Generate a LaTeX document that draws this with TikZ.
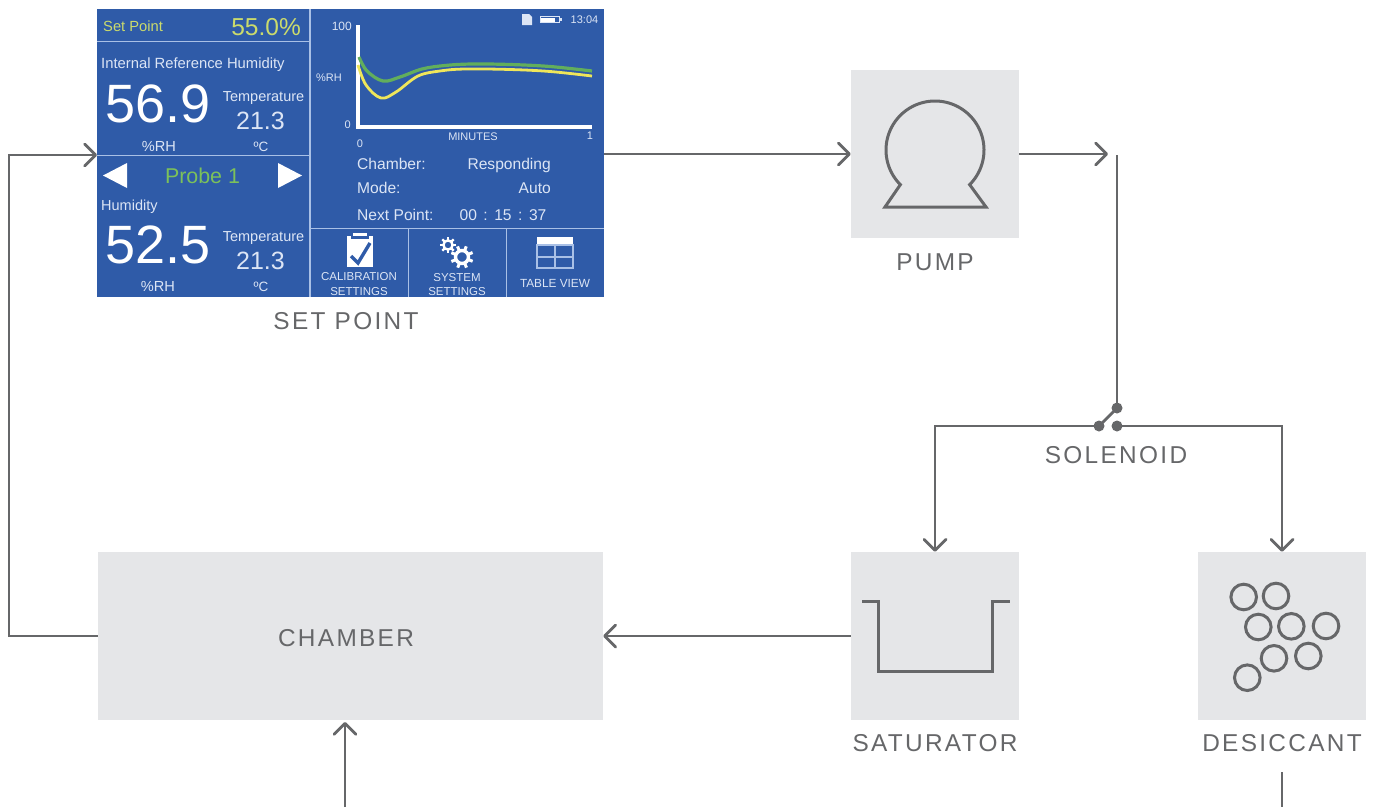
\documentclass[tikz,border=0pt]{standalone}
\usepackage{fontspec}
\setmainfont{Liberation Sans}
\newfontfamily\labfont[LetterSpace=9.5]{Liberation Sans}
\usetikzlibrary{arrows.meta}
\definecolor{linegray}{HTML}{666769}
\definecolor{boxgray}{HTML}{E5E6E8}
\definecolor{scrblue}{HTML}{2F5BA8}
\definecolor{scrline}{HTML}{A9C0E6}
\definecolor{scrtext}{HTML}{DCE5F5}
\definecolor{setyellow}{HTML}{CBDB6C}
\definecolor{probegreen}{HTML}{7CC15A}
\definecolor{curvegreen}{HTML}{62AE5C}
\definecolor{curveyellow}{HTML}{EFE65A}
\newcommand{\fsz}[1]{\fontsize{#1}{#1}\selectfont}
\tikzset{
  flow/.style={draw=linegray,line width=2.8pt,line join=miter},
  arrowed/.style={flow,-{Straight Barb[length=11pt,width=22pt,line width=2.8pt,round]}},
  graybox/.style={fill=boxgray,draw=none,minimum width=168pt,minimum height=168pt,inner sep=0pt,rectangle},
  iconline/.style={draw=linegray,line width=3pt,line join=miter},
  bead/.style={iconline,fill=none},
  dot/.style={circle,fill=linegray,draw=none,minimum size=11pt,inner sep=0pt},
  steplabel/.style={text=linegray,font=\labfont\fsz{24.4},inner sep=0pt,anchor=center},
  stxt/.style={text=scrtext,inner sep=0pt},
  divider/.style={draw=scrline,line width=1.4pt},
  big/.style={stxt,text=white,font=\fsz{54},anchor=center},
  mid/.style={stxt,text=scrtext,font=\fsz{25},anchor=center},
  temp/.style={stxt,font=\fsz{14.5},anchor=center},
  body/.style={stxt,font=\fsz{15.6}},
  small/.style={stxt,font=\fsz{14.6},anchor=center},
  axis/.style={stxt,font=\fsz{11},anchor=center},
  soft/.style={stxt,font=\fsz{12},anchor=center,text=scrtext},
  iconwhite/.style={fill=white,draw=none},
}
\begin{document}
\begin{tikzpicture}[x=1pt,y=-1pt]
\useasboundingbox (0,0) rectangle (1375,807);
% boxes
\node[rectangle,fill=scrblue,minimum width=507pt,minimum height=288pt,inner sep=0pt] (screen) at (350.5,153) {};
\node[graybox] (pump) at (935,154) {};
\node[graybox,minimum width=505pt] (chamber) at (350.5,636) {};
\node[graybox] (saturator) at (935,636) {};
\node[graybox] (desiccant) at (1282,636) {};
% screen dividers
\draw[divider] (310,9) -- (310,297);
\draw[divider] (97,41.5) -- (310,41.5);
\draw[divider] (97,155.5) -- (310,155.5);
\draw[divider] (310,228.5) -- (604,228.5);
\draw[divider] (408.5,228.5) -- (408.5,297);
\draw[divider] (506.5,228.5) -- (506.5,297);
% left screen
\node[stxt,text=setyellow,font=\fsz{14.7},anchor=west] (t1) at (103,26.5) {Set Point};
\node[stxt,text=setyellow,font=\fsz{24.5},anchor=east] (t2) at (301,27) {55.0\%};
\node[stxt,font=\fsz{14.8},anchor=west] (t3) at (101,65) {Internal Reference Humidity};
\node[big] (t4) at (158,104) {56.9};
\node[temp] (t5) at (263.5,98) {Temperature};
\node[mid] (t6) at (260.5,121) {21.3};
\node[small] (t7) at (159,146.5) {\%RH};
\node[small,font=\fsz{13.5}] (t8) at (261,146.5) {ºC};
\node[stxt,text=probegreen,font=\fsz{21.4},anchor=center] (t9) at (202.5,176) {Probe 1};
\fill[white] (103,175.5) -- (127,163) -- (127,188) -- cycle;
\fill[white] (302,175.5) -- (278,163) -- (278,188) -- cycle;
\node[stxt,font=\fsz{14.5},anchor=west] (t10) at (101,207) {Humidity};
\node[big] (t11) at (158,245) {52.5};
\node[temp] (t12) at (263.5,238) {Temperature};
\node[mid] (t13) at (260.5,261) {21.3};
\node[small] (t14) at (158,286.5) {\%RH};
\node[small,font=\fsz{13.5}] (t15) at (261,286.5) {ºC};
% chart
\draw[draw=white,line width=3.4pt] (358,25) -- (358,127) -- (592,127);
\draw[curvegreen,line width=3.2pt] plot[smooth,tension=0.6] coordinates {(359,57) (367,71) (383,81) (400,77) (422,69) (445,65.5) (472,64) (510,64.5) (550,66.5) (592,71)};
\draw[curveyellow,line width=2.8pt] plot[smooth,tension=0.6] coordinates {(358,65) (366,85) (381,98) (396,92) (418,76) (440,71) (465,69) (510,69.5) (550,71.5) (592,76)};
\node[axis,font=\fsz{12},anchor=east] (a1) at (352,26.5) {100};
\node[axis] (a2) at (329,77.5) {\%RH};
\node[axis,anchor=east] (a3) at (351,124.5) {0};
\node[axis] (a4) at (360,144) {0};
\node[axis] (a5) at (473,137) {MINUTES};
\node[axis] (a6) at (590,136) {1};
% status bar
\fill[scrtext] (522,14) -- (529,14) -- (532,17) -- (532,25) -- (522,25) -- cycle;
\draw[scrtext,line width=1pt] (540,16.5) rectangle (559,22.5);
\fill[white] (541,17.5) rectangle (555,21.5);
\fill[scrtext] (559,18) rectangle (562,21);
\node[stxt,font=\fsz{11},anchor=center] (a7) at (584.5,19.5) {13:04};
% status text
\node[body,anchor=west] (b1) at (357,163.5) {Chamber:};
\node[body,anchor=east] (b2) at (551,165) {Responding};
\node[body,anchor=west] (b3) at (357,188) {Mode:};
\node[body,anchor=east] (b4) at (551,188) {Auto};
\node[body,anchor=west] (b5) at (357,215) {Next Point:};
\node[body,anchor=center] (b6) at (503,215) {00\hspace{6.5pt}:\hspace{6.5pt}15\hspace{6.5pt}:\hspace{6.5pt}37};
% clipboard icon
\fill[white] (346.5,235.5) rectangle (373,267);
\fill[scrblue] (351,233) rectangle (369,238.5);
\fill[white] (353,233) rectangle (367,236);
\draw[scrblue,line width=3.4pt] (351,256) -- (358,263) -- (370,243);
\node[soft,font=\fsz{11.5}] (c1) at (359,277) {CALIBRATION};
\node[soft,font=\fsz{11.5}] (c2) at (359,291.5) {SETTINGS};
% gears
\draw[white,line width=2.4pt] (448,245) circle (4.6);
\foreach \a in {0,45,...,315} \draw[white,line width=2.4pt] ({448+5*cos(\a)},{245+5*sin(\a)}) -- ({448+8*cos(\a)},{245+8*sin(\a)});
\draw[white,line width=3.4pt] (462,257) circle (6.5);
\foreach \a in {22,67,...,337} \draw[white,line width=3pt] ({462+7*cos(\a)},{257+7*sin(\a)}) -- ({462+11.5*cos(\a)},{257+11.5*sin(\a)});
\node[soft,font=\fsz{11.5}] (c3) at (457,277.5) {SYSTEM};
\node[soft,font=\fsz{11.5}] (c4) at (457,292) {SETTINGS};
% table icon
\fill[white] (537,237) rectangle (573,245);
\draw[scrline,line width=1.1pt] (537,245) rectangle (573,268);
\draw[scrline,line width=1.1pt] (537,257) -- (573,257);
\draw[scrline,line width=1.1pt] (555,245) -- (555,268);
\node[soft,font=\fsz{11.8}] (c5) at (555,283.5) {TABLE VIEW};
% labels
\node[steplabel] (l1) at (346,321) {SET POINT};
\node[steplabel] (l2) at (935,262) {PUMP};
\node[steplabel] (l3) at (1116,455) {SOLENOID};
\node[steplabel] (l4) at (346,638) {CHAMBER};
\node[steplabel] (l5) at (935,743) {SATURATOR};
\node[steplabel] (l6) at (1282,743) {DESICCANT};
% pump icon
\draw[iconline] plot[domain=135:405,samples=90] ({935+49*cos(\x)},{150+49*sin(\x)}) -- (986,207) -- (885,207) -- cycle;
% saturator icon
\draw[iconline] (862,601) -- (878,601) -- (878,671) -- (992,671) -- (992,601) -- (1010,601);
% beads
\foreach \n/\px/\py in {1/1243.7/597,2/1276/596,3/1258.3/627,4/1291.3/626.3,5/1326/626,6/1274/658.3,7/1308.3/656,8/1247.3/677.7}
  \draw[bead] (\px,\py) circle (12.8);
% connectors
\coordinate (loop) at (9,155);
\coordinate (screenin) at (97,155);
\coordinate (pumpout) at (1108,154);
\coordinate (valvein) at (1117,155);
\coordinate (chamberin) at (345,807);
\coordinate (chamberbottom) at (345,722);
\coordinate (desicc1) at (1282,772);
\coordinate (desicc2) at (1282,807);
\node[dot] (sw) at (1117,408) {};
\node[dot] (swl) at (1099,426) {};
\node[dot] (swr) at (1117,426) {};
\draw[flow] (valvein) -- (sw.center);
\draw[flow] (sw.center) -- (swl.center);
\draw[arrowed] (chamber.west) -| (loop) -- (screenin);
\draw[arrowed] (pump.west -| screen.east) -- (pump.west);
\draw[arrowed] (pump.east) -- (pumpout);
\draw[arrowed] (swl.center) -| (saturator.north);
\draw[arrowed] (swr.center) -| (desiccant.north);
\draw[arrowed] (saturator.west) -- (chamber.east);
\draw[arrowed] (chamberin) -- (chamberbottom);
\draw[flow] (desicc1) -- (desicc2);
\end{tikzpicture}
\end{document}
